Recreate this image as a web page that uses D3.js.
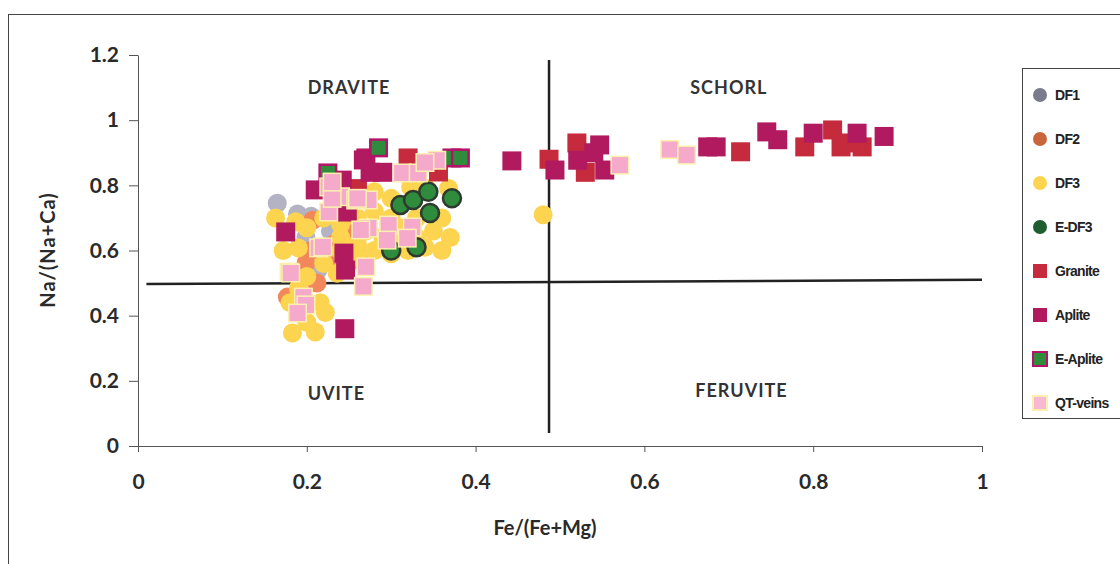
<!DOCTYPE html>
<html>
<head>
<meta charset="utf-8">
<title>Fe/(Fe+Mg) vs Na/(Na+Ca)</title>
<script src="https://cdn.jsdelivr.net/npm/d3@7"></script>
<style>
  body { margin: 0; background: #fff; }
  svg { display: block; }
  .tick text { font-family: Lato, "Open Sans", sans-serif; font-weight: 700; font-size: 21px; fill: #2a2a2a; }
  .ttl { font-family: Lato, "Open Sans", sans-serif; font-weight: 700; font-size: 20px; fill: #2a2a2a; }
  .zone { font-family: Lato, "Open Sans", sans-serif; font-weight: 700; font-size: 18px; fill: #333; letter-spacing: 1px; }
  .leg { font-family: "Liberation Sans", Arial, sans-serif; font-weight: 700; font-size: 14px; fill: #222; letter-spacing: -0.7px; }
</style>
</head>
<body>
<script>
// Serien (x = Fe/(Fe+Mg), y = Na/(Na+Ca))
var df1 = [[0.165,0.745],[0.189,0.712],[0.199,0.64],[0.213,0.54],[0.266,0.592],[0.228,0.66],[0.205,0.705],[0.255,0.57],[0.3,0.62]];
var df2 = [[0.207,0.693],[0.199,0.562],[0.177,0.457],[0.192,0.47],[0.222,0.58],[0.24,0.55],[0.212,0.5],[0.232,0.62],[0.25,0.66],[0.205,0.6]];
var df3 = [[0.163,0.70],[0.187,0.688],[0.19,0.608],[0.19,0.485],[0.236,0.53],[0.183,0.347],[0.21,0.35],[0.216,0.44],[0.2,0.44],
           [0.18,0.44],[0.2,0.38],[0.222,0.41],[0.2,0.52],[0.22,0.56],[0.24,0.6],[0.26,0.62],[0.28,0.6],[0.3,0.59],[0.32,0.6],
           [0.34,0.61],[0.36,0.6],[0.37,0.64],[0.35,0.66],[0.36,0.7],[0.368,0.79],[0.323,0.795],[0.342,0.79],[0.3,0.7],[0.28,0.72],
           [0.26,0.7],[0.24,0.68],[0.27,0.66],[0.29,0.64],[0.31,0.67],[0.33,0.7],[0.25,0.74],[0.3,0.76],[0.28,0.78],[0.22,0.7],
           [0.24,0.64],[0.31,0.62],[0.48,0.71],[0.172,0.6],[0.2,0.67],[0.33,0.64],[0.26,0.58]];
var edf3 = [[0.3,0.6],[0.33,0.61],[0.311,0.74],[0.326,0.755],[0.344,0.78],[0.346,0.715],[0.372,0.76]];
var granite = [[0.32,0.884],[0.356,0.841],[0.487,0.88],[0.52,0.93],[0.714,0.903],[0.79,0.918],[0.823,0.97],[0.833,0.918],
               [0.858,0.918],[0.53,0.84],[0.84,0.93],[0.26,0.79]];
var aplite = [[0.27,0.884],[0.275,0.84],[0.29,0.84],[0.21,0.786],[0.242,0.816],[0.248,0.718],[0.267,0.878],[0.175,0.657],
              [0.244,0.592],[0.246,0.54],[0.245,0.36],[0.443,0.875],[0.494,0.847],[0.521,0.877],[0.547,0.924],[0.553,0.847],
              [0.675,0.918],[0.685,0.918],[0.745,0.964],[0.758,0.94],[0.80,0.96],[0.852,0.96],[0.884,0.95],[0.54,0.9],[0.238,0.73]];
var eaplite = [[0.225,0.838],[0.285,0.915],[0.372,0.884],[0.382,0.884]];
var qtveins = [[0.313,0.838],[0.332,0.838],[0.354,0.877],[0.226,0.795],[0.24,0.765],[0.258,0.755],[0.273,0.755],[0.226,0.718],
               [0.273,0.669],[0.297,0.678],[0.325,0.672],[0.295,0.632],[0.319,0.638],[0.214,0.608],[0.219,0.611],[0.179,0.534],
               [0.264,0.663],[0.267,0.49],[0.196,0.457],[0.181,0.531],[0.199,0.433],[0.189,0.408],[0.23,0.76],[0.26,0.76],
               [0.571,0.862],[0.63,0.91],[0.65,0.893],[0.34,0.87],[0.23,0.81],[0.27,0.55]];

var seriesNames = ["DF1","DF2","DF3","E-DF3","Granite","Aplite","E-Aplite","QT-veins"];
var xTicks = [0,0.2,0.4,0.6,0.8,1];
var yTicks = [0,0.2,0.4,0.6,0.8,1,1.2];
var zones = [["DRAVITE",0.25,1.1],["SCHORL",0.7,1.1],["UVITE",0.235,0.16],["FERUVITE",0.715,0.17]];

// Darstellung je Serie
var styles = [
  {data: df1,     shape: "circle", fill: "#b3b3c4", stroke: "none",    sw: 0,   legFill: "#7b7b8e"},
  {data: df2,     shape: "circle", fill: "#f3875c", stroke: "none",    sw: 0,   legFill: "#c8653c"},
  {data: df3,     shape: "circle", fill: "#fcd44f", stroke: "none",    sw: 0,   legFill: "#fcd44f"},
  {data: edf3,    shape: "circle", fill: "#2e8c3c", stroke: "#2f3a2f", sw: 2.5, legFill: "#1f5e30"},
  {data: granite, shape: "square", fill: "#c52b3c", stroke: "none",    sw: 0,   legFill: "#c52b3c"},
  {data: aplite,  shape: "square", fill: "#b21a5f", stroke: "none",    sw: 0,   legFill: "#b21a5f"},
  {data: eaplite, shape: "square", fill: "#2e8c3c", stroke: "#b3146a", sw: 2.5, legFill: "#2e8c3c"},
  {data: qtveins, shape: "square", fill: "#f5aacb", stroke: "#fbf0b0", sw: 1.5, legFill: "#f8b8d4"}
];

var W = 1120, H = 564;
var svg = d3.select("body").append("svg").attr("width", W).attr("height", H);

// Rahmen um das ganze Diagramm
svg.append("rect").attr("x", 8.5).attr("y", 14.5).attr("width", 1140).attr("height", 600)
   .attr("fill", "none").attr("stroke", "#444").attr("stroke-width", 1);

var x = d3.scaleLinear().domain([0, 1]).range([138, 982]);
var y = d3.scaleLinear().domain([0, 1.2]).range([446, 55]);

// Achsen
svg.append("g").attr("transform", "translate(0,446)")
   .call(d3.axisBottom(x).tickValues(xTicks).tickFormat(d3.format("~g")).tickSize(6).tickSizeOuter(0).tickPadding(22))
   .call(function(g) { g.select(".domain").attr("stroke", "#555"); g.selectAll(".tick line").attr("stroke", "#555"); });

svg.append("g").attr("transform", "translate(138,0)")
   .call(d3.axisLeft(y).tickValues(yTicks).tickFormat(d3.format("~g")).tickSize(9).tickSizeOuter(0).tickPadding(10))
   .call(function(g) { g.select(".domain").attr("stroke", "#555"); g.selectAll(".tick line").attr("stroke", "#555"); });

svg.append("text").attr("class", "ttl").attr("x", 545).attr("y", 535).attr("text-anchor", "middle").text("Fe/(Fe+Mg)");
svg.append("text").attr("class", "ttl").attr("transform", "translate(55,250) rotate(-90)")
   .attr("text-anchor", "middle").style("letter-spacing", "1px").text("Na/(Na+Ca)");

// Trennlinien der Felder
svg.append("line").attr("x1", x(0.01)).attr("x2", x(1.0)).attr("y1", y(0.5) + 1).attr("y2", y(0.51))
   .attr("stroke", "#222").attr("stroke-width", 2.5);
svg.append("line").attr("x1", x(0.487)).attr("x2", x(0.487)).attr("y1", y(1.185)).attr("y2", y(0.04))
   .attr("stroke", "#222").attr("stroke-width", 2.5);

svg.selectAll(".zone").data(zones).enter().append("text").attr("class", "zone")
   .attr("x", function(d) { return x(d[1]); }).attr("y", function(d) { return y(d[2]); })
   .attr("text-anchor", "middle").attr("dy", "0.35em").text(function(d) { return d[0]; });

// Punkte
var R = 9.5, S = 19;
styles.forEach(function(s) {
  var g = svg.append("g");
  if (s.shape == "circle") {
    g.selectAll("circle").data(s.data).enter().append("circle")
     .attr("cx", function(d) { return x(d[0]); }).attr("cy", function(d) { return y(d[1]); })
     .attr("r", s.sw ? R - 0.5 : R).attr("fill", s.fill)
     .attr("stroke", s.stroke).attr("stroke-width", s.sw);
  } else {
    var side = s.sw ? S - s.sw : S;
    g.selectAll("rect").data(s.data).enter().append("rect")
     .attr("x", function(d) { return x(d[0]) - side / 2; }).attr("y", function(d) { return y(d[1]) - side / 2; })
     .attr("width", side).attr("height", side).attr("fill", s.fill)
     .attr("stroke", s.stroke).attr("stroke-width", s.sw);
  }
});

// Legende
var leg = svg.append("g").attr("transform", "translate(1022,68)");
leg.append("rect").attr("x", 0.5).attr("y", 0.5).attr("width", 140).attr("height", 350)
   .attr("fill", "#fff").attr("stroke", "#444");
seriesNames.forEach(function(n, i) {
  var s = styles[i], cy = 27 + i * 44;
  if (s.shape == "circle") {
    leg.append("circle").attr("cx", 18).attr("cy", cy).attr("r", 7).attr("fill", s.legFill);
  } else {
    leg.append("rect").attr("x", 11).attr("y", cy - 7).attr("width", 14).attr("height", 14)
       .attr("fill", s.legFill).attr("stroke", s.stroke).attr("stroke-width", s.sw ? 2 : 0);
  }
  leg.append("text").attr("class", "leg").attr("x", 33).attr("y", cy).attr("dy", "0.36em").text(n);
});
</script>
</body>
</html>
